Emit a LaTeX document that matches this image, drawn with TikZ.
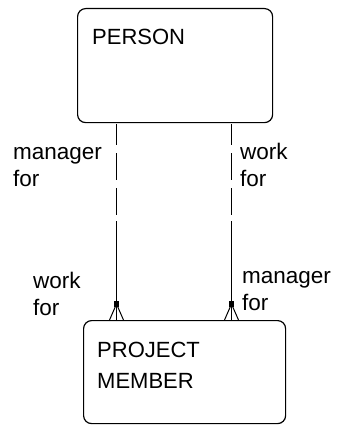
\documentclass[tikz,border=0pt]{standalone}
\usepackage{fontspec}
\setmainfont{Liberation Sans}
\begin{document}
\begin{tikzpicture}[x=1pt,y=-1pt,
  entity/.style={draw, line width=1.2pt, rounded corners=8pt, inner sep=0pt, anchor=north west},
  boxtext/.style={anchor=base west, inner sep=0pt, align=left, font=\fontsize{22}{31}\selectfont},
  rolelabel/.style={anchor=base west, inner sep=0pt, align=left, font=\fontsize{22.5}{27}\selectfont},
  rel/.style={line width=1.3pt},
  reldash/.style={rel, dash pattern=on 27pt off 8pt, dash phase=6pt},
  foot/.style={line width=1pt}]
\useasboundingbox (0,0) rectangle (337,425);
\fill[white] (0,0) rectangle (337,425);
% entities
\node[entity, minimum width=195pt, minimum height=114pt] (person) at (77,8) {};
\node[entity, minimum width=202pt, minimum height=103pt] (member) at (83,320) {};
\node[boxtext] (ptext) at (92,45) {PERSON};
\node[boxtext] (mtext) at (97,388) {PROJECT\\MEMBER};
% connector coordinates
\coordinate (l1) at (116.5,124);
\coordinate (l2) at (116.5,221);
\coordinate (l3) at (l1 |- member.north);
\coordinate (la) at (116.5,304);
\coordinate (r1) at (231.5,124);
\coordinate (r2) at (231.5,221);
\coordinate (r3) at (r1 |- member.north);
\coordinate (ra) at (231.5,304);
% left relationship
\draw[reldash] (l1) -- (l2);
\draw[rel] (l2) -- (l3);
\draw[foot] (la) -- ([xshift=-7pt]l3) (la) -- ([xshift=7pt]l3);
\fill ([xshift=-2.5pt,yshift=3pt]la) rectangle ([xshift=2.5pt,yshift=-3pt]la);
% right relationship
\draw[reldash] (r1) -- (r2);
\draw[rel] (r2) -- (r3);
\draw[foot] (ra) -- ([xshift=-7pt]r3) (ra) -- ([xshift=7pt]r3);
\fill ([xshift=-2.5pt,yshift=3pt]ra) rectangle ([xshift=2.5pt,yshift=-3pt]ra);
% role labels (base = baseline of last line)
\node[rolelabel] (lt) at (13,186) {manager\\for};
\node[rolelabel] (rt) at (240,186) {work\\for};
\node[rolelabel] (lb) at (33,315) {work\\for};
\node[rolelabel] (rb) at (242,310) {manager\\for};
\end{tikzpicture}
\end{document}
